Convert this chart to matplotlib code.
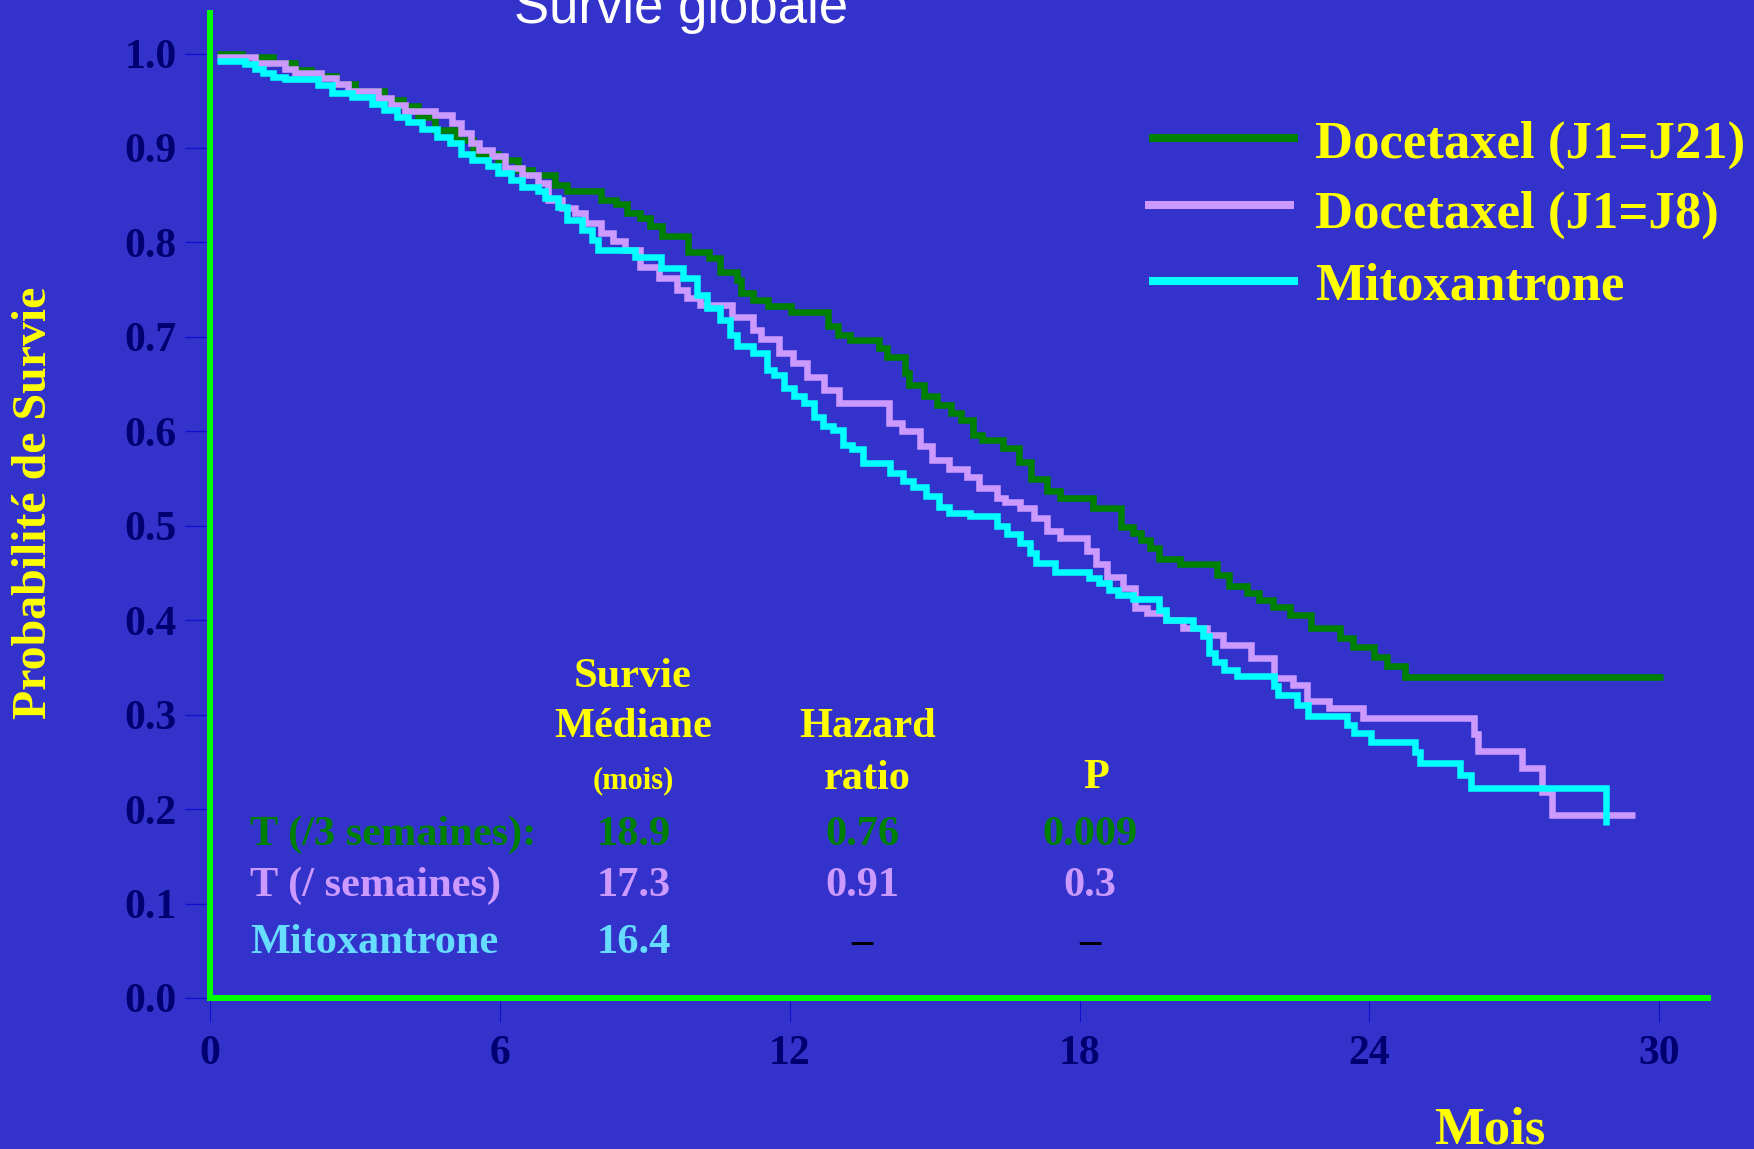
import matplotlib
matplotlib.use('Agg')
import matplotlib.pyplot as plt
from matplotlib.lines import Line2D

#- Données des courbes (mois, probabilité de survie) -#
t_j21 = [0.15, 0.66, 1.3, 1.76, 2.1, 2.6, 3.0, 3.6, 4.0, 4.3, 4.66, 5.1, 5.45, 5.96, 6.37,
         6.67, 7.14, 7.4, 8.1, 8.4, 8.63, 8.9, 9.1, 9.36, 9.9, 10.32, 10.55, 10.9, 11.0, 11.24,
         11.55, 12.03, 12.8, 13.0, 13.25, 13.85, 14.02, 14.38, 14.48, 14.78, 15.04, 15.34, 15.55,
         15.8, 15.98, 16.42, 16.75, 17.0, 17.33, 17.6, 18.28, 18.86, 19.1, 19.28, 19.45, 19.65,
         20.08, 20.85, 21.1, 21.47, 21.72, 22.0, 22.36, 22.8, 23.4, 23.66, 24.1, 24.36, 24.74, 30.07]
s_j21 = [1.0, 0.996, 0.99, 0.983, 0.976, 0.968, 0.96, 0.951, 0.944, 0.933, 0.919, 0.908, 0.894,
         0.887, 0.877, 0.871, 0.861, 0.854, 0.845, 0.841, 0.831, 0.826, 0.817, 0.807, 0.79, 0.783,
         0.769, 0.76, 0.746, 0.739, 0.733, 0.726, 0.711, 0.702, 0.697, 0.688, 0.679, 0.662, 0.649,
         0.637, 0.628, 0.619, 0.612, 0.596, 0.591, 0.582, 0.567, 0.55, 0.537, 0.529, 0.519, 0.499,
         0.492, 0.485, 0.476, 0.465, 0.459, 0.448, 0.436, 0.429, 0.421, 0.414, 0.405, 0.392, 0.381,
         0.372, 0.361, 0.351, 0.34, 0.34]

t_j8 = [0.15, 0.93, 1.55, 1.76, 2.3, 2.6, 2.85, 3.48, 3.75, 4.03, 4.66, 5.0, 5.2, 5.4, 5.56,
        5.84, 6.1, 6.46, 6.8, 7.0, 7.29, 7.55, 7.76, 8.1, 8.35, 8.6, 8.9, 9.3, 9.67, 9.87, 10.14,
        10.8, 11.24, 11.4, 11.77, 12.07, 12.36, 12.72, 13.02, 14.05, 14.33, 14.7, 14.95, 15.3,
        15.67, 15.92, 16.3, 16.45, 16.77, 17.05, 17.33, 17.6, 18.15, 18.35, 18.57, 18.9, 19.15,
        19.4, 19.8, 20.15, 20.64, 20.97, 21.55, 22.02, 22.42, 22.7, 23.17, 23.87, 26.17, 26.25,
        27.16, 27.58, 27.78, 29.5]
s_j8 = [0.996, 0.99, 0.984, 0.979, 0.974, 0.968, 0.96, 0.953, 0.945, 0.939, 0.935, 0.926, 0.916,
        0.905, 0.898, 0.891, 0.879, 0.871, 0.863, 0.845, 0.836, 0.831, 0.821, 0.81, 0.801, 0.792,
        0.774, 0.762, 0.75, 0.741, 0.734, 0.721, 0.707, 0.698, 0.683, 0.672, 0.658, 0.644, 0.63,
        0.609, 0.6, 0.584, 0.57, 0.56, 0.552, 0.54, 0.529, 0.525, 0.519, 0.508, 0.494, 0.487,
        0.473, 0.46, 0.446, 0.434, 0.413, 0.408, 0.4, 0.392, 0.384, 0.374, 0.36, 0.339, 0.331,
        0.314, 0.307, 0.296, 0.28, 0.261, 0.243, 0.218, 0.194, 0.194]

t_mito = [0.15, 0.72, 0.93, 1.1, 1.3, 1.55, 2.24, 2.52, 2.94, 3.35, 3.6, 3.87, 4.1, 4.39, 4.7,
          4.97, 5.2, 5.43, 5.76, 5.96, 6.23, 6.46, 6.8, 6.94, 7.2, 7.4, 7.7, 7.9, 8.04, 8.8, 9.33,
          9.8, 10.08, 10.29, 10.56, 10.77, 10.9, 11.24, 11.53, 11.67, 11.88, 12.08, 12.29, 12.5,
          12.7, 12.9, 13.1, 13.3, 13.52, 14.08, 14.35, 14.56, 14.83, 15.1, 15.3, 15.73, 16.3, 16.5,
          16.77, 16.98, 17.1, 17.5, 18.2, 18.4, 18.6, 18.8, 19.1, 19.65, 19.8, 20.35, 20.55, 20.68,
          20.8, 21.0, 21.26, 22.02, 22.1, 22.5, 22.73, 23.54, 23.68, 24.04, 24.95, 25.05, 25.88,
          26.1, 28.9]
s_mito = [0.992, 0.989, 0.984, 0.979, 0.975, 0.973, 0.967, 0.958, 0.954, 0.947, 0.94, 0.933,
          0.927, 0.92, 0.912, 0.905, 0.894, 0.887, 0.881, 0.874, 0.866, 0.859, 0.854, 0.847,
          0.838, 0.824, 0.813, 0.803, 0.792, 0.785, 0.773, 0.762, 0.744, 0.731, 0.718, 0.702,
          0.69, 0.683, 0.665, 0.66, 0.646, 0.637, 0.63, 0.615, 0.606, 0.601, 0.585, 0.581, 0.566,
          0.556, 0.547, 0.541, 0.531, 0.52, 0.514, 0.51, 0.5, 0.491, 0.482, 0.471, 0.461, 0.451,
          0.445, 0.439, 0.432, 0.427, 0.422, 0.411, 0.4, 0.392, 0.383, 0.365, 0.356, 0.347, 0.341,
          0.33, 0.321, 0.31, 0.299, 0.289, 0.281, 0.271, 0.26, 0.249, 0.236, 0.222, 0.183]

noms = ['Docetaxel (J1=J21)', 'Docetaxel (J1=J8)', 'Mitoxantrone']
x_ticks = [0, 6, 12, 18, 24, 30]
y_ticks = [0.0, 0.1, 0.2, 0.3, 0.4, 0.5, 0.6, 0.7, 0.8, 0.9, 1.0]

#- Tableau des résultats -#
groupes = ['T (/3 semaines):', 'T (/ semaines)', 'Mitoxantrone']
medianes = ['18.9', '17.3', '16.4']
hazard = ['0.76', '0.91', '–']
valeurs_p = ['0.009', '0.3', '–']

#- Style -#
FOND = '#3333CC'
VERT_AXE = '#00FF00'
JAUNE = '#FFFF00'
NAVY = '#000070'
couleurs = ['#008000', '#CC99FF', '#00FFFF']
couleurs_txt = ['#008000', '#CC99FF', '#66DDFF']
SERIF = 'Liberation Serif'

W, H = 1754, 1149
def fx(px):
    return px / W
def fy(py):
    return 1 - py / H

fig = plt.figure(figsize=(W / 100, H / 100), dpi=100, facecolor=FOND)
ax = fig.add_axes([fx(210), fy(998), (1708 - 210) / W, (998 - 13.4) / H])
ax.set_facecolor(FOND)

for t, s, c in zip([t_j21, t_j8, t_mito], [s_j21, s_j8, s_mito], couleurs):
    ax.step(t, s, where='post', color=c, lw=4.7, solid_joinstyle='miter', solid_capstyle='butt')

ax.set_xlim(0, 31.01)
ax.set_ylim(0, 1.0425)
for lado in ['top', 'right']:
    ax.spines[lado].set_visible(False)
for lado in ['left', 'bottom']:
    ax.spines[lado].set_color(VERT_AXE)
    ax.spines[lado].set_linewidth(4.3)

ax.set_xticks(x_ticks)
ax.set_yticks(y_ticks)
ax.set_yticklabels([f'{v:.1f}' for v in y_ticks])
ax.tick_params(axis='x', length=17, width=0.8, color='#1010D0', pad=10, labelsize=30,
               labelcolor=NAVY)
ax.tick_params(axis='y', length=18, width=1.0, color='#1010D0', pad=6, labelsize=30,
               labelcolor=NAVY)
for lab in ax.get_xticklabels() + ax.get_yticklabels():
    lab.set_fontfamily(SERIF)
    lab.set_fontweight('bold')

ax.set_ylabel('Probabilité de Survie', fontsize=34.5, fontweight='bold', family=SERIF,
              color=JAUNE, va='center')
ax.yaxis.set_label_coords((34.5 - 210) / 1498, (998 - 503) / (998 - 13.4))
ax.set_xlabel('Mois', fontsize=38, fontweight='bold', family=SERIF, color=JAUNE, va='baseline')
ax.xaxis.set_label_coords((1490 - 210) / 1498, (998 - 1144) / (998 - 13.4))

#- Titre (coupé en haut) -#
fig.text(fx(681), fy(23), 'Survie globale', family='Liberation Sans', fontsize=38,
         color='white', ha='center', va='baseline')

#- Légende -#
leg_y = [138, 205, 281]
leg_base = [158, 228, 300]
leg_x0 = [1149, 1145, 1149]
for i in range(3):
    fig.add_artist(Line2D([fx(leg_x0[i]), fx(leg_x0[i] + 149)], [fy(leg_y[i])] * 2,
                          color=couleurs[i], lw=5.8, solid_capstyle='butt'))
    fig.text(fx(1315), fy(leg_base[i]), noms[i], family=SERIF, fontweight='bold',
             fontsize=38, color=JAUNE, ha='left', va='baseline')

#- Tableau -#
txt = dict(family=SERIF, fontweight='bold', va='baseline')
fig.text(fx(633), fy(687), 'Survie', fontsize=30.5, color=JAUNE, ha='center', **txt)
fig.text(fx(633), fy(737), 'Médiane', fontsize=30.5, color=JAUNE, ha='center', **txt)
fig.text(fx(633), fy(788), '(mois)', fontsize=22, color=JAUNE, ha='center', **txt)
fig.text(fx(868), fy(737), 'Hazard', fontsize=30.5, color=JAUNE, ha='center', **txt)
fig.text(fx(867), fy(789), 'ratio', fontsize=30.5, color=JAUNE, ha='center', **txt)
fig.text(fx(1096), fy(788), 'P', fontsize=30.5, color=JAUNE, ha='center', **txt)

lignes_y = [845, 896, 953]
for i in range(3):
    c = couleurs_txt[i]
    fig.text(fx(250), fy(lignes_y[i]), groupes[i], fontsize=30.5, color=c, ha='left', **txt)
    fig.text(fx(634), fy(lignes_y[i]), medianes[i], fontsize=30.5, color=c, ha='center', **txt)
    fig.text(fx(862), fy(lignes_y[i]), hazard[i], fontsize=30.5,
             color='black' if hazard[i] == '–' else c, ha='center', **txt)
    fig.text(fx(1090), fy(lignes_y[i]), valeurs_p[i], fontsize=30.5,
             color='black' if valeurs_p[i] == '–' else c, ha='center', **txt)

fig.savefig('out.png', dpi=100, facecolor=FOND)
